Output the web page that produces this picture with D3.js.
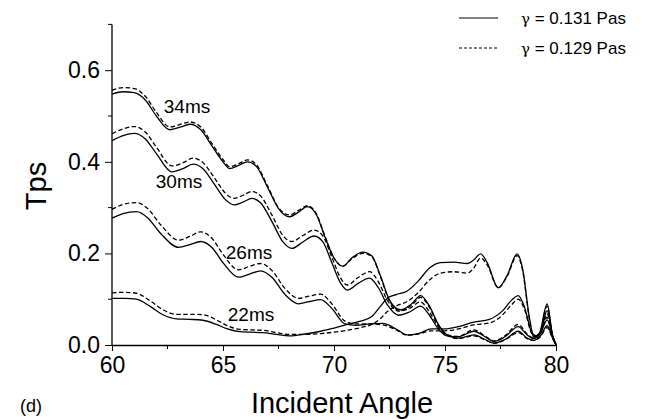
<!DOCTYPE html>
<html>
<head>
<meta charset="utf-8">
<script src="https://cdn.jsdelivr.net/npm/d3@7"></script>
<style>
  html, body { margin: 0; padding: 0; background: #fff; }
  svg { display: block; font-family: "Liberation Sans", Arial, sans-serif; }
</style>
</head>
<body>
<svg id="chart" width="658" height="420"></svg>
<script>
// Transmission Tps versus incident angle for four delays, two viscosities each.
const angle34 = [60, 60.5, 61, 61.5, 62, 62.6, 63.1, 63.5, 64, 64.5, 65, 65.3, 65.7, 66.1, 66.5, 67, 67.5, 68, 68.4, 68.8, 69.2, 69.6, 70, 70.4, 70.8, 71.3, 71.7, 72.1, 72.5, 73, 73.5, 73.9, 74.3, 74.7, 75.1, 75.6, 76.3, 76.8, 77.2, 77.7, 78.3, 78.7, 79, 79.3, 79.6, 79.85, 80];
const tps34Solid = [0.548, 0.553, 0.551, 0.535, 0.500, 0.470, 0.476, 0.482, 0.470, 0.435, 0.400, 0.385, 0.392, 0.400, 0.390, 0.345, 0.298, 0.280, 0.290, 0.302, 0.285, 0.235, 0.190, 0.172, 0.190, 0.203, 0.195, 0.150, 0.098, 0.077, 0.090, 0.108, 0.085, 0.045, 0.022, 0.015, 0.022, 0.012, 0.004, 0.012, 0.030, 0.015, 0.010, 0.020, 0.042, 0.015, 0.0];
const tps34Dashed = [0.556, 0.562, 0.560, 0.543, 0.508, 0.476, 0.482, 0.487, 0.476, 0.440, 0.405, 0.389, 0.396, 0.404, 0.394, 0.348, 0.300, 0.284, 0.294, 0.304, 0.287, 0.237, 0.190, 0.172, 0.188, 0.200, 0.193, 0.148, 0.096, 0.075, 0.087, 0.104, 0.082, 0.043, 0.021, 0.014, 0.020, 0.011, 0.004, 0.011, 0.027, 0.014, 0.010, 0.018, 0.038, 0.014, 0.0];

const angle30 = [60, 60.5, 61, 61.5, 62, 62.7, 63.2, 63.65, 64.1, 64.6, 65.1, 65.5, 65.9, 66.3, 66.7, 67.2, 67.7, 68.1, 68.6, 69.1, 69.5, 69.9, 70.3, 70.6, 71.1, 71.6, 72, 72.4, 72.9, 73.4, 73.9, 74.3, 74.7, 75.1, 75.6, 76.3, 76.8, 77.2, 77.7, 78.3, 78.7, 79, 79.3, 79.6, 79.85, 80];
const tps30Solid = [0.446, 0.457, 0.462, 0.450, 0.418, 0.378, 0.385, 0.395, 0.385, 0.352, 0.318, 0.306, 0.312, 0.320, 0.310, 0.270, 0.225, 0.211, 0.225, 0.238, 0.225, 0.180, 0.135, 0.120, 0.135, 0.146, 0.125, 0.088, 0.065, 0.072, 0.085, 0.065, 0.035, 0.020, 0.018, 0.030, 0.018, 0.008, 0.018, 0.040, 0.022, 0.014, 0.025, 0.055, 0.018, 0.0];
const tps30Dashed = [0.461, 0.472, 0.477, 0.465, 0.432, 0.391, 0.398, 0.408, 0.398, 0.366, 0.332, 0.320, 0.327, 0.335, 0.325, 0.284, 0.239, 0.226, 0.239, 0.251, 0.238, 0.192, 0.146, 0.131, 0.148, 0.160, 0.138, 0.098, 0.074, 0.080, 0.094, 0.072, 0.040, 0.022, 0.019, 0.033, 0.020, 0.009, 0.020, 0.045, 0.024, 0.015, 0.027, 0.060, 0.020, 0.0];

const angle26 = [60, 60.5, 61.1, 61.6, 62.2, 63, 63.5, 64, 64.5, 65, 65.7, 66.2, 66.7, 67.2, 67.8, 68.4, 68.9, 69.4, 69.9, 70.5, 71, 71.6, 72.2, 72.8, 73.3, 73.8, 74.4, 75, 75.6, 76.3, 77, 77.6, 78, 78.3, 78.6, 78.9, 79.1, 79.35, 79.6, 79.85, 80];
const tps26Solid = [0.277, 0.287, 0.291, 0.278, 0.243, 0.213, 0.219, 0.226, 0.213, 0.180, 0.148, 0.155, 0.162, 0.148, 0.110, 0.090, 0.095, 0.099, 0.080, 0.046, 0.043, 0.046, 0.047, 0.035, 0.022, 0.025, 0.035, 0.035, 0.040, 0.050, 0.056, 0.075, 0.098, 0.108, 0.080, 0.028, 0.020, 0.035, 0.075, 0.020, 0.0];
const tps26Dashed = [0.296, 0.307, 0.311, 0.298, 0.262, 0.229, 0.237, 0.247, 0.233, 0.198, 0.164, 0.172, 0.178, 0.163, 0.123, 0.102, 0.107, 0.111, 0.090, 0.052, 0.046, 0.046, 0.044, 0.033, 0.021, 0.024, 0.031, 0.031, 0.035, 0.044, 0.048, 0.066, 0.088, 0.100, 0.075, 0.026, 0.019, 0.032, 0.068, 0.018, 0.0];

const angle22 = [60, 60.6, 61.1, 61.7, 62.3, 62.9, 63.5, 64.1, 64.7, 65.2, 65.75, 66.3, 66.8, 67.4, 68, 68.7, 69.4, 70, 70.7, 71.2, 71.7, 72.1, 72.4, 72.8, 73.3, 73.8, 74.3, 74.8, 75.4, 76, 76.3, 76.6, 76.9, 77.4, 77.8, 78.25, 78.5, 78.8, 79, 79.25, 79.6, 79.85, 80];
const tps22Solid = [0.102, 0.102, 0.100, 0.085, 0.066, 0.057, 0.056, 0.054, 0.045, 0.035, 0.029, 0.028, 0.027, 0.023, 0.020, 0.024, 0.030, 0.037, 0.046, 0.052, 0.062, 0.085, 0.102, 0.110, 0.118, 0.140, 0.168, 0.180, 0.181, 0.178, 0.186, 0.199, 0.180, 0.125, 0.152, 0.199, 0.165, 0.060, 0.018, 0.025, 0.090, 0.020, 0.003];
const tps22Dashed = [0.114, 0.115, 0.113, 0.097, 0.077, 0.067, 0.067, 0.066, 0.055, 0.042, 0.034, 0.033, 0.032, 0.027, 0.023, 0.023, 0.025, 0.028, 0.033, 0.038, 0.045, 0.058, 0.073, 0.085, 0.095, 0.115, 0.142, 0.157, 0.160, 0.157, 0.168, 0.190, 0.175, 0.125, 0.150, 0.195, 0.162, 0.058, 0.017, 0.023, 0.085, 0.018, 0.003];

const xMajorTicks = [60, 65, 70, 75, 80];
const xMinorTicks = [62.5, 67.5, 72.5, 77.5];
const yMajorTicks = [0, 0.2, 0.4, 0.6];
const yMinorTicks = [0.1, 0.3, 0.5, 0.7];

const delayLabels = ["34ms", "30ms", "26ms", "22ms"];
const legendSymbol = "\u03b3";
const legendValues = [" = 0.131 Pas", " = 0.129 Pas"];

const series = [
  { x: angle34, y: tps34Solid, dashed: false },
  { x: angle34, y: tps34Dashed, dashed: true },
  { x: angle30, y: tps30Solid, dashed: false },
  { x: angle30, y: tps30Dashed, dashed: true },
  { x: angle26, y: tps26Solid, dashed: false },
  { x: angle26, y: tps26Dashed, dashed: true },
  { x: angle22, y: tps22Solid, dashed: false },
  { x: angle22, y: tps22Dashed, dashed: true }
];

const svg = d3.select("#chart");
const x = d3.scaleLinear().domain([60, 80]).range([112, 556]);
const y = d3.scaleLinear().domain([0, 0.7]).range([345, 24.4]);

const line = d3.line()
  .x(d => x(d[0]))
  .y(d => y(d[1]))
  .curve(d3.curveMonotoneX);

const curves = svg.append("g").attr("fill", "none").attr("stroke", "#000");
series.forEach(s => {
  curves.append("path")
    .attr("d", line(s.x.map((a, i) => [a, s.y[i]])))
    .attr("stroke-width", 1.3)
    .attr("stroke-dasharray", s.dashed ? "4.5,2.5" : null);
});

// Axes
const fontTick = 23;
const xAxis = svg.append("g").attr("transform", `translate(0,${y(0)})`)
  .call(d3.axisBottom(x).tickValues(xMajorTicks).tickSize(6).tickSizeOuter(0).tickPadding(6).tickFormat(d3.format("d")));
xAxis.append("g").selectAll("line").data(xMinorTicks).join("line")
  .attr("x1", d => x(d)).attr("x2", d => x(d)).attr("y1", 0).attr("y2", 4)
  .attr("stroke", "#000");

const yAxis = svg.append("g").attr("transform", `translate(${x(60)},0)`)
  .call(d3.axisLeft(y).tickValues(yMajorTicks).tickSize(7).tickSizeOuter(0).tickPadding(5).tickFormat(d3.format(".1f")));
yAxis.append("g").selectAll("line").data(yMinorTicks).join("line")
  .attr("y1", d => y(d)).attr("y2", d => y(d)).attr("x1", 0).attr("x2", -4)
  .attr("stroke", "#000");

[xAxis, yAxis].forEach(g => {
  g.select(".domain").attr("stroke-width", 1.3);
  g.selectAll("line").attr("stroke-width", 1);
  g.selectAll("text").attr("font-size", fontTick).attr("fill", "#000")
    .attr("font-family", "'Liberation Sans', Arial, sans-serif");
});
yAxis.select(".domain").attr("d", `M0,${y(0)}V${y(0.7)}`);

// Axis titles
svg.append("text")
  .attr("x", 342).attr("y", 413)
  .attr("text-anchor", "middle").attr("font-size", 29)
  .text("Incident Angle");
svg.append("text")
  .attr("transform", "translate(46,186) rotate(-90)")
  .attr("text-anchor", "middle").attr("font-size", 29)
  .text("Tps");
svg.append("text")
  .attr("x", 20).attr("y", 412)
  .attr("font-size", 18)
  .text("(d)");

// Delay labels
const labelPos = [[187, 106], [179, 181], [249, 252], [251, 314]];
delayLabels.forEach((t, i) => {
  svg.append("text")
    .attr("x", labelPos[i][0]).attr("y", labelPos[i][1])
    .attr("dy", "0.35em")
    .attr("text-anchor", "middle").attr("font-size", 19)
    .text(t);
});

// Legend
const legend = svg.append("g");
legendValues.forEach((t, i) => {
  const ly = 18 + i * 30;
  legend.append("line")
    .attr("x1", 459).attr("x2", 498).attr("y1", ly).attr("y2", ly)
    .attr("stroke", "#000").attr("stroke-width", 1)
    .attr("stroke-dasharray", i === 1 ? "3,2" : null);
  const label = legend.append("text")
    .attr("x", 521).attr("y", ly).attr("dy", "0.35em")
    .attr("font-size", 17);
  label.append("tspan")
    .attr("font-family", "'DejaVu Serif', serif")
    .attr("font-size", 15)
    .text(legendSymbol);
  label.append("tspan").text(t);
});
</script>
</body>
</html>
